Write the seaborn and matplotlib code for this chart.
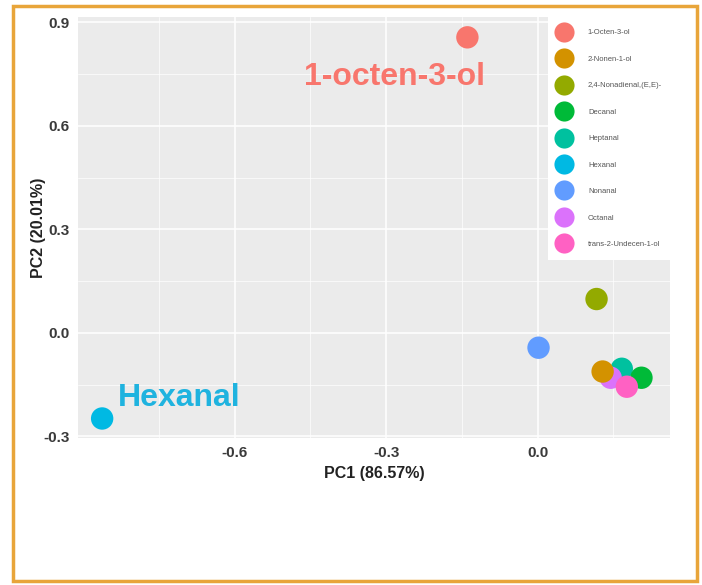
import matplotlib
matplotlib.use("Agg")
import matplotlib.pyplot as plt
import seaborn as sns
import pandas as pd
from matplotlib.patches import Rectangle
from matplotlib.lines import Line2D

compounds = ["Heptanal", "Decanal", "Octanal", "2-Nonen-1-ol", "trans-2-Undecen-1-ol",
             "1-Octen-3-ol", "2,4-Nonadienal,(E,E)-", "Hexanal", "Nonanal"]
pc1 = [0.167, 0.206, 0.145, 0.129, 0.177, -0.139, 0.117, -0.863, 0.002]
pc2 = [-0.104, -0.130, -0.130, -0.112, -0.156, 0.856, 0.098, -0.248, -0.043]

legend_order = ["1-Octen-3-ol", "2-Nonen-1-ol", "2,4-Nonadienal,(E,E)-", "Decanal",
                "Heptanal", "Hexanal", "Nonanal", "Octanal", "trans-2-Undecen-1-ol"]
palette_hex = ["#F8766D", "#D39200", "#93AA00", "#00BA38", "#00C19F",
               "#00B9E3", "#619CFF", "#DB72FB", "#FF61C3"]
x_ticks = [-0.6, -0.3, 0.0]
y_ticks = [-0.3, 0.0, 0.3, 0.6, 0.9]

df = pd.DataFrame({"PC1": pc1, "PC2": pc2, "Compound": compounds})
pal = dict(zip(legend_order, palette_hex))

sns.set_theme(style="darkgrid")
plt.rcParams["font.family"] = ["Liberation Sans", "DejaVu Sans"]

fig = plt.figure(figsize=(7.02, 5.85), dpi=100)
ax = fig.add_axes([0.111, 0.251, 0.843, 0.72])
ax.set_facecolor("#EBEBEB")

sns.scatterplot(data=df, x="PC1", y="PC2", hue="Compound", hue_order=legend_order,
                palette=pal, s=260, edgecolor="none", linewidth=0, alpha=1,
                ax=ax, legend=False, zorder=3)

ax.set_xlim(-0.911, 0.262)
ax.set_ylim(-0.305, 0.915)
ax.set_xticks(x_ticks)
ax.set_yticks(y_ticks)
ax.set_xticklabels([f"{v:.1f}" for v in x_ticks])
ax.set_yticklabels([f"{v:.1f}" for v in y_ticks])
ax.set_xticks([-0.75, -0.45, -0.15, 0.15], minor=True)
ax.set_yticks([-0.15, 0.15, 0.45, 0.75], minor=True)
ax.grid(which="major", color="white", linewidth=1.1)
ax.grid(which="minor", color="white", linewidth=0.5)
for sp in ax.spines.values():
    sp.set_visible(False)
ax.tick_params(axis="both", which="major", length=3, color="#7F7F7F",
               labelsize=11, labelcolor="#3A3A3A", pad=3)
ax.tick_params(axis="both", which="minor", length=0)
for lab in ax.get_xticklabels() + ax.get_yticklabels():
    lab.set_fontweight("bold")

ax.set_xlabel("PC1 (86.57%)", fontsize=11.5, fontweight="bold", color="#222222", labelpad=4)
ax.set_ylabel("PC2 (20.01%)", fontsize=11.5, fontweight="bold", color="#222222")
ax.yaxis.set_label_coords(-0.054, 0.5)

ax.text(-0.284, 0.74, "1-octen-3-ol", color="#F8766D", fontsize=23, fontweight="bold",
        ha="center", va="center", zorder=4)
ax.text(-0.71, -0.19, "Hexanal", color="#1FB3DF", fontsize=23, fontweight="bold",
        ha="center", va="center", zorder=4)

# white legend background box
ax.add_patch(Rectangle((0.794, 0.4226), 0.206, 0.5774, transform=ax.transAxes,
                       facecolor="white", edgecolor="none", zorder=5))

handles = [Line2D([0], [0], marker="o", linestyle="none", markersize=14.5,
                  markerfacecolor=pal[c], markeredgecolor="none") for c in legend_order]
leg = ax.legend(handles, legend_order, loc="upper right",
                bbox_to_anchor=(1.0, 1.0 - 4.5 / 421), frameon=False,
                fontsize=5.5, labelspacing=2.5, handletextpad=1.5,
                borderpad=1.0, borderaxespad=0.0, handlelength=3.2)
leg.set_zorder(6)
for t in leg.get_texts():
    t.set_color("#555555")

fig.patches.append(Rectangle((0.018, 0.006), 0.975, 0.983, transform=fig.transFigure,
                             fill=False, edgecolor="#E8A53A", linewidth=2.5))

fig.savefig("out.png", dpi=100)
